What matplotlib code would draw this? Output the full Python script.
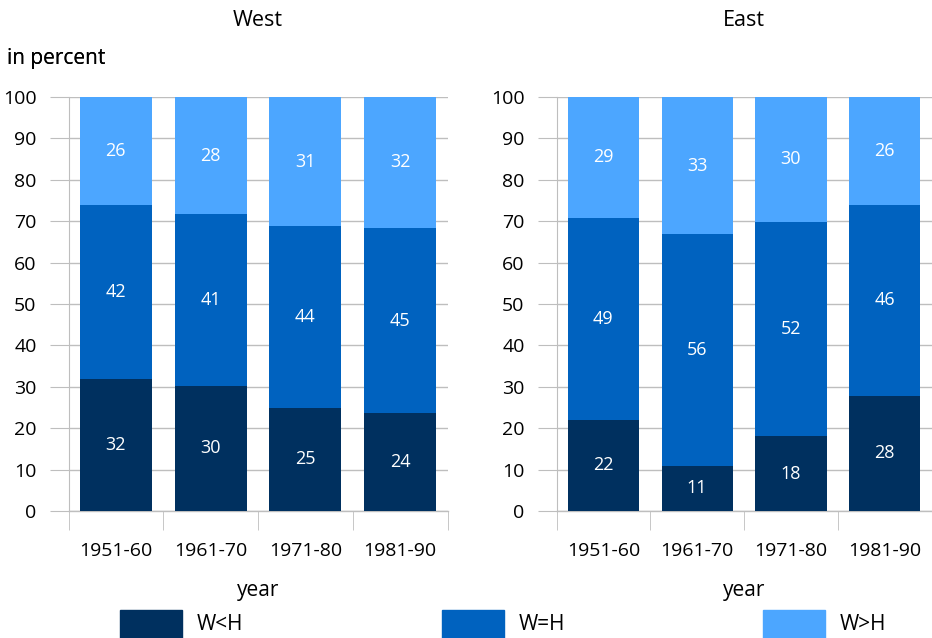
import numpy as np
import matplotlib.pyplot as plt
from matplotlib.patches import Rectangle

plt.rcParams['font.family'] = ['Open Sans', 'DejaVu Sans']

periods = ['1951-60', '1961-70', '1971-80', '1981-90']
series = ['W<H', 'W=H', 'W>H']
# shares in percent (labels are rounded)
west_lt = [31.9, 30.3, 24.9, 23.6]
west_eq = [42.0, 41.4, 43.9, 44.8]
west_gt = [26.1, 28.3, 31.2, 31.6]
east_lt = [22.0, 10.9, 18.1, 27.8]
east_eq = [48.8, 56.0, 51.8, 46.2]
east_gt = [29.2, 33.1, 30.1, 26.0]
colors = ['#00305f', '#0062bf', '#4ca6ff']
grid_c = '#bebebe'

fig = plt.figure(figsize=(9.32, 6.38), dpi=100)
W, H = 932, 638


def panel(left, right, title, data):
    ax = fig.add_axes([left / W, 1 - 511 / H, (right - left) / W, (511 - 97) / H])
    x = np.arange(len(periods))
    bottom = np.zeros(len(periods))
    for vals, c in zip(data, colors):
        vals = np.array(vals)
        ax.bar(x, vals, 0.76, bottom=bottom, color=c, zorder=2)
        for xi, b, v in zip(x, bottom, vals):
            ax.text(xi, b + v / 2, str(int(round(v))), ha='center', va='center',
                    color='white', fontsize=13, zorder=3)
        bottom += vals
    ax.set_xlim(-0.5, len(periods) - 0.5)
    ax.set_ylim(0, 100)
    ax.set_yticks(range(0, 101, 10))
    ax.yaxis.grid(True, color=grid_c, linewidth=1, zorder=0)
    ax.set_axisbelow(True)
    for s in ['top', 'right', 'bottom']:
        ax.spines[s].set_visible(False)
    ax.spines['left'].set_color(grid_c)
    ax.tick_params(axis='y', length=14, color=grid_c, labelsize=14, pad=9)
    ax.set_xticks(x)
    ax.set_xticklabels(periods)
    ax.tick_params(axis='x', length=0, labelsize=14, pad=22)
    ax.set_xticks(np.arange(-0.5, len(periods)), minor=True)
    ax.tick_params(axis='x', which='minor', length=14, color=grid_c)
    ax.axhline(0, color=grid_c, linewidth=1, zorder=1, clip_on=False)
    ax.set_title(title, fontsize=15.5, pad=51)
    ax.set_xlabel('year', fontsize=15, labelpad=15)
    ax.text(-(left - 7) / (right - left), 1.093, 'in percent', transform=ax.transAxes,
            fontsize=15, ha='left', va='center')
    return ax


panel(68.5, 447.5, 'West', [west_lt, west_eq, west_gt])
panel(556.5, 931.5, 'East', [east_lt, east_eq, east_gt])

leg_x = [120, 442, 763]
for lx, name, c in zip(leg_x, series, colors):
    fig.patches.append(Rectangle((lx / W, 0), 62 / W, 28 / H, transform=fig.transFigure,
                                 color=c))
    fig.text((lx + 77) / W, 1 - 625 / H, name, fontsize=15, va='center', ha='left')

fig.savefig('out.png', dpi=100)
